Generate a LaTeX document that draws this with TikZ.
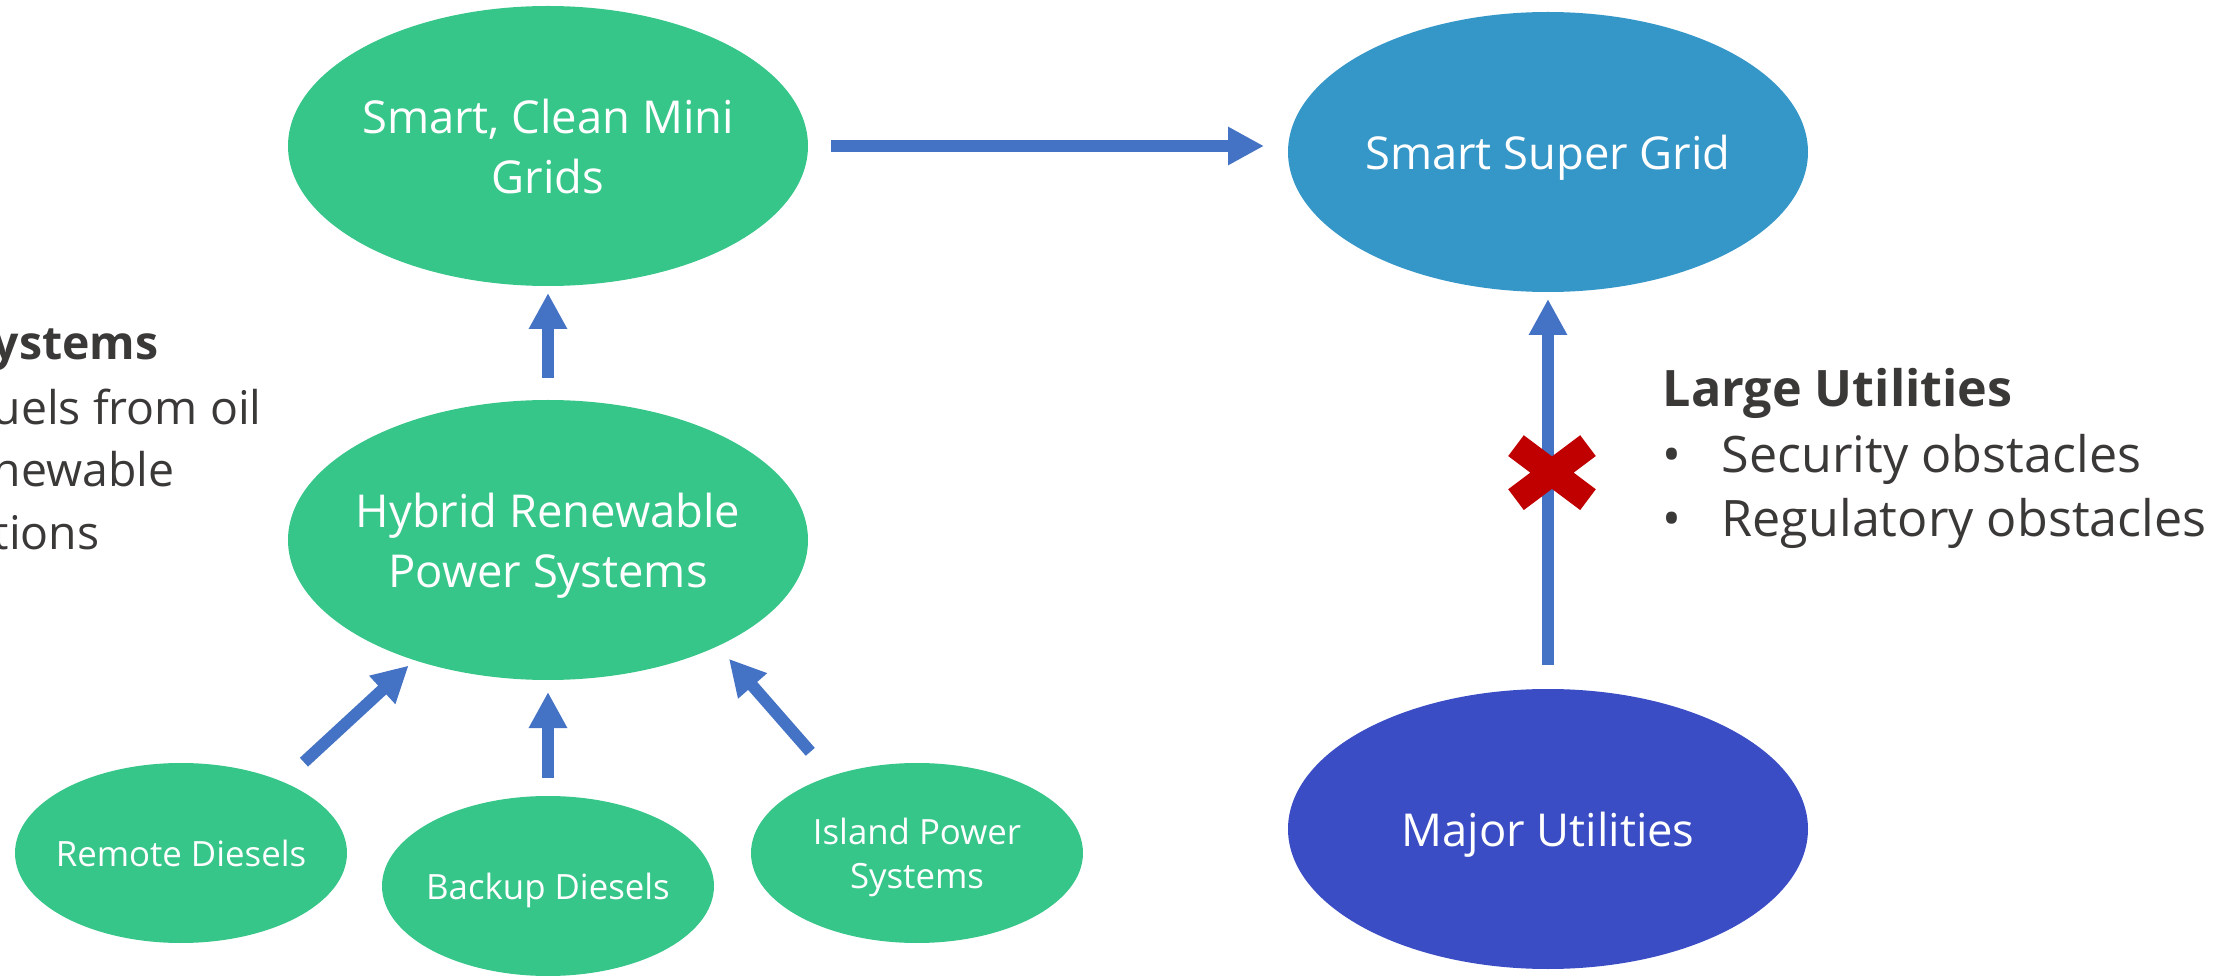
\documentclass[tikz,border=0pt]{standalone}
\usepackage{fontspec}
\setmainfont{Open Sans}
\usepackage{tikz}
\usetikzlibrary{ arrows.meta, positioning, shapes.geometric, shapes.misc }
\definecolor{gridgreen}{HTML}{37C68A}
\definecolor{superblue}{HTML}{3596C8}
\definecolor{majorblue}{HTML}{3A4DC4}
\definecolor{arrowblue}{HTML}{4472C4}
\definecolor{xred}{HTML}{C00000}
\definecolor{textgray}{HTML}{3B3838}
\tikzset{
hub/.style={ellipse, fill=gridgreen, text=white, align=center, inner xsep=-3mm, inner ysep=0pt, outer sep=0pt,
  text depth=0pt, minimum width=5.2cm, minimum height=2.8cm, font=\fontsize{12.9}{17}\selectfont}, % the large ellipses
site/.style={hub, minimum width=3.32cm, minimum height=1.8cm, font=\fontsize{9.9}{12.5}\selectfont}, % the small ones at the bottom
flow/.style={color=arrowblue, line width=1.2mm, -{Triangle[width=3.6mm, length=3.6mm]}}, % thick blue arrows
blocked/.style={cross out, draw=xred, line width=2.6mm, minimum width=7.2mm, minimum height=5.4mm, inner sep=0pt, outer sep=0pt}, % red cross on the arrow
notetext/.style={text=textgray, inner sep=0pt, anchor=base west, font=\fontsize{14.3}{18}\selectfont},
notehead/.style={notetext, font=\fontsize{14.3}{18}\selectfont\bfseries},
cuttext/.style={notetext, font=\fontsize{13.2}{16}\selectfont}, % block cut off by the left edge
}
\begin{document}
\begin{tikzpicture}[node distance=1cm]
  \useasboundingbox (0,0) rectangle (22.27,9.75);
  \node[hub] (mini) at (5.48,8.29) {Smart, Clean Mini\\Grids};
  \node[hub, below=1.14cm of mini] (hybrid) {Hybrid Renewable\\Power Systems};
  \node[site, below=1.16cm of hybrid] (backup) {Backup Diesels};
  \node[site, left=0.35cm of backup, yshift=3.3mm] (remote) {Remote Diesels};
  \node[site, right=0.37cm of backup, yshift=3.3mm] (island) {Island Power\\Systems};
  \node[hub, fill=superblue, right=4.80cm of mini, yshift=-0.6mm] (super) {Smart Super Grid};
  \node[hub, fill=majorblue, below=3.97cm of super] (major) {Major Utilities};

  % text cut off at the left edge
  \node[cuttext, font=\fontsize{13.2}{16}\selectfont\bfseries] (small) at (-0.08,6.15) {ystems};
  \node[cuttext] (fuels) at (-0.08,5.50) {uels from oil};
  \node[cuttext] (renew) at (-0.08,4.88) {newable};
  \node[cuttext] (tions) at (-0.08,4.25) {tions};

  \node[notehead] (large) at (16.62,5.68) {Large Utilities};
  \node[notetext] (security) at (16.62,5.02) {\makebox[5.9mm][l]{\textbullet}Security obstacles};
  \node[notetext] (regulatory) at (16.62,4.38) {\makebox[5.9mm][l]{\textbullet}Regulatory obstacles};

  \path
  (mini.east) edge[flow, shorten <=2.3mm, shorten >=2.4mm] (super.west |- mini.east)
  (hybrid) edge[flow, shorten <=2.2mm, shorten >=0.7mm] (mini)
  (backup) edge[flow, shorten <=1.8mm, shorten >=1.2mm] (hybrid)
  (remote.35) edge[flow, shorten <=2.9mm, shorten >=0.8mm] (hybrid.222)
  (island.138) edge[flow, shorten <=3.2mm, shorten >=1.7mm] (hybrid.-32)
  (major) edge[flow, shorten <=2.4mm, shorten >=0.7mm] (super);
  % the cross sits on top of the blocked arrow
  \path (major) -- node[blocked, pos=0.545, xshift=0.4mm] (block) {} (super);
\end{tikzpicture}
\end{document}
